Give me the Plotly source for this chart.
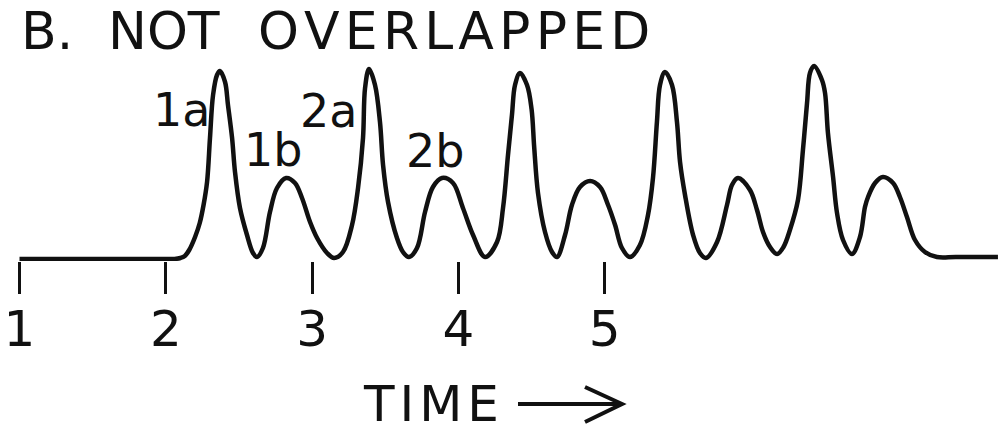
import plotly.graph_objects as go

# ---- data ----
# time axis (arbitrary units) and detector response (baseline = 0)
time = [1.000, 1.500, 2.000, 2.060, 2.100, 2.130, 2.160, 2.200, 2.232, 2.258, 2.282, 2.302, 2.323, 2.350, 2.370,
        2.405, 2.425, 2.453, 2.473, 2.507, 2.555, 2.596, 2.623,
        2.664, 2.712, 2.760, 2.822, 2.883, 2.931, 2.986, 3.034, 3.102, 3.150,
        3.211, 3.273, 3.314, 3.348, 3.362, 3.389, 3.430, 3.464, 3.485, 3.519, 3.580, 3.621, 3.662,
        3.717, 3.772, 3.826, 3.888, 3.963, 4.031, 4.100, 4.182,
        4.264, 4.305, 4.339, 4.366, 4.387, 4.421, 4.469, 4.500, 4.518, 4.544, 4.592, 4.640, 4.674,
        4.729, 4.776, 4.831, 4.900, 4.968, 5.023, 5.071, 5.118, 5.173,
        5.241, 5.296, 5.330, 5.357, 5.378, 5.412, 5.460, 5.494, 5.515, 5.549, 5.604, 5.651, 5.692,
        5.768, 5.836, 5.870, 5.911, 5.993, 6.041, 6.082, 6.130, 6.178,
        6.222, 6.266, 6.321, 6.355, 6.383, 6.403, 6.431, 6.485, 6.506, 6.526, 6.561, 6.588, 6.629, 6.690,
        6.745, 6.779, 6.800, 6.848, 6.902, 6.971, 7.018, 7.066, 7.121, 7.189, 7.271, 7.400, 7.688]
response = [0, 0, 0, 0, 1, 3, 9, 22, 36, 54, 77, 121, 164, 184, 188,
            177, 154, 121, 87, 51, 24, 6, 2,
            11, 47, 71, 81, 76, 61, 37, 21, 6, 1,
            7, 34, 71, 121, 171, 190, 174, 137, 94, 57, 21, 7, 2,
            11, 47, 72, 81, 76, 51, 24, 2,
            17, 51, 104, 144, 174, 186, 174, 150, 112, 66, 27, 7, 2,
            24, 54, 72, 78, 72, 54, 34, 11, 2,
            14, 44, 81, 137, 174, 187, 174, 137, 97, 64, 24, 6, 1,
            17, 54, 74, 81, 69, 49, 27, 12, 5,
            12, 29, 59, 109, 156, 186, 193, 179, 166, 126, 82, 46, 19, 5,
            22, 52, 62, 76, 82, 76, 62, 42, 19, 7, 2, 2, 2]

tick_vals = [1, 2, 3, 4, 5]
tick_text = ["1", "2", "3", "4", "5"]

peak_names = ["1a", "1b", "2a", "2b"]
peak_label_t = [2.104, 2.733, 3.109, 3.840]
peak_label_s = [149, 109, 148, 108]

HS = "\u200a"  # hair space, widens the lettering like the stencil original
title_words = ["B.", "NOT", HS.join("OVERLAPPED")]
title_word_x = [19, 106, 256]  # pixel left edges

# trailing padding keeps the centred axis title left of the arrow
axis_title = (HS.join("TIME") + "\u00a0" * 8
              + '<span style="color:rgba(0,0,0,0)">.</span>')

FONT = "DejaVu Sans"
INK = "#111111"
W, H = 1006, 433
PLOT_BOTTOM = 261  # pixel row of the plot-area bottom


def px(x):
    return x / W


def py(y):
    return (PLOT_BOTTOM - y) / PLOT_BOTTOM


fig = go.Figure()
fig.add_trace(go.Scatter(
    x=time, y=response, mode="lines",
    line=dict(color=INK, width=4.5, shape="spline", smoothing=1.0),
    hoverinfo="skip", showlegend=False,
))

for name, t, s in zip(peak_names, peak_label_t, peak_label_s):
    fig.add_annotation(x=t, y=s, xref="x", yref="y", text=name, showarrow=False,
                       font=dict(family=FONT, size=46, color=INK),
                       xanchor="center", yanchor="middle")

for word, x0 in zip(title_words, title_word_x):
    fig.add_annotation(x=px(x0), y=py(31), xref="paper", yref="paper",
                       text=word, showarrow=False,
                       font=dict(family=FONT, size=52, color=INK),
                       xanchor="left", yanchor="middle")

# the arrow that follows "TIME"
arrow_path = (f"M {px(518)} {py(404)} L {px(621)} {py(404)} "
              f"M {px(585)} {py(387)} L {px(622)} {py(404)} L {px(585)} {py(422)}")
fig.add_shape(type="path", path=arrow_path, xref="paper", yref="paper",
              line=dict(color=INK, width=4))

fig.update_layout(
    width=W, height=H,
    margin=dict(l=0, r=0, t=0, b=H - PLOT_BOTTOM),
    paper_bgcolor="white", plot_bgcolor="white",
    font=dict(family=FONT, color=INK),
    xaxis=dict(
        range=[0.8667, 7.743], showgrid=False, zeroline=False, showline=False,
        ticks="outside", ticklen=32, tickwidth=3, tickcolor=INK,
        tickvals=tick_vals, ticktext=tick_text,
        tickfont=dict(family=FONT, size=50, color=INK),
        ticklabelstandoff=-8,
        title=dict(text=axis_title, font=dict(family=FONT, size=50, color=INK), standoff=29),
    ),
    yaxis=dict(range=[-2, 259], visible=False),
)

fig.write_html("out.html")
